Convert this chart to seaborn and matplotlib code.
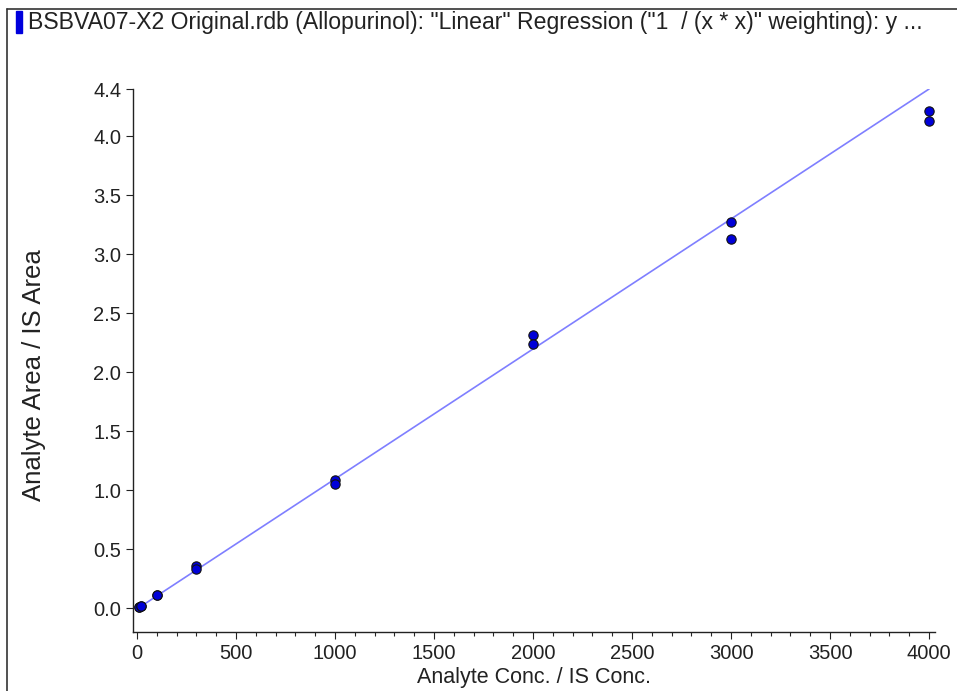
"""
plot.py
    Calibration curve (Allopurinol), analyte/IS area ratio vs concentration ratio
"""

import matplotlib
matplotlib.use('Agg')
import matplotlib.pyplot as plt
from matplotlib.patches import Rectangle
from matplotlib.lines import Line2D
from matplotlib.ticker import MultipleLocator, FixedLocator, FormatStrFormatter
import seaborn as sns
import pandas as pd

# Data
conc = [10, 10, 20, 20, 100, 100, 300, 300, 1000, 1000, 2000, 2000, 3000, 3000, 4000, 4000]
area_ratio = [0.010, 0.012, 0.022, 0.024, 0.11, 0.115, 0.36, 0.33, 1.09, 1.05, 2.32, 2.24, 3.27, 3.13, 4.21, 4.13]
fit_x = [0, 4000]
fit_y = [-0.005, 4.40]
y_ticks = [0.0, 0.5, 1.0, 1.5, 2.0, 2.5, 3.0, 3.5, 4.0, 4.4]
title = 'BSBVA07-X2 Original.rdb (Allopurinol): "Linear" Regression ("1  / (x * x)" weighting): y ...'

sns.set_style('ticks')
plt.rcParams['font.family'] = ['Liberation Sans', 'DejaVu Sans']

points = pd.DataFrame({'x': conc, 'y': area_ratio})
fit = pd.DataFrame({'x': fit_x, 'y': fit_y})

fig = plt.figure(figsize=(9.57, 6.91), dpi=100)
ax = fig.add_axes([133 / 957, 1 - 632 / 691, (935 - 133) / 957, (632 - 89) / 691])

sns.lineplot(data=fit, x='x', y='y', ax=ax, color='#7f7fff', linewidth=1.2)
sns.scatterplot(data=points, x='x', y='y', ax=ax, color='#0000d8', edgecolor='#111111',
                linewidth=0.8, s=45, zorder=3)

ax.set_xlim(-20, 4030)
ax.set_ylim(-0.2, 4.4)
ax.xaxis.set_major_locator(MultipleLocator(500))
ax.xaxis.set_minor_locator(MultipleLocator(100))
ax.yaxis.set_major_locator(FixedLocator(y_ticks))
ax.yaxis.set_major_formatter(FormatStrFormatter('%.1f'))
ax.tick_params(axis='both', labelsize=14.5, colors='#222222', length=5, width=0.8)
ax.tick_params(axis='x', which='minor', length=3, width=0.8)
for s in ['top', 'right']:
    ax.spines[s].set_visible(False)
for s in ['left', 'bottom']:
    ax.spines[s].set_color('#222222')
    ax.spines[s].set_linewidth(1.0)

ax.set_xlabel('Analyte Conc. / IS Conc.', fontsize=15.5, color='#222222', labelpad=3)
ax.set_ylabel('Analyte Area / IS Area', fontsize=18.5, color='#222222')
ax.yaxis.set_label_coords(-0.108, 0.473)

# frame and title strip
fig.add_artist(Line2D([7 / 957, 7 / 957], [0, 1 - 9 / 691], transform=fig.transFigure,
                      color='#333333', linewidth=1.2))
fig.add_artist(Line2D([7 / 957, 1], [1 - 9 / 691, 1 - 9 / 691], transform=fig.transFigure,
                      color='#333333', linewidth=1.2))
fig.add_artist(Rectangle((16 / 957, 1 - 33 / 691), 6 / 957, 22 / 691, transform=fig.transFigure,
                         color='#0000dd'))
fig.text(28 / 957, 1 - 22 / 691, title, fontsize=16.6, color='#222222', va='center', ha='left')

fig.savefig('out.png', dpi=100)
